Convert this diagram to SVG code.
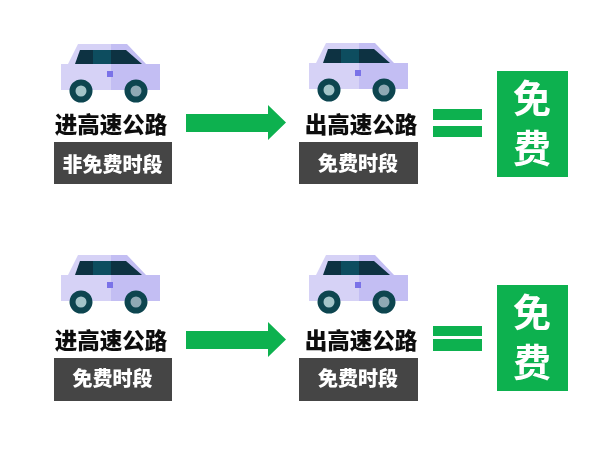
<svg xmlns="http://www.w3.org/2000/svg" width="600" height="450" viewBox="0 0 600 450">
<style>
.lbl{font-family:"Noto Sans CJK SC","Liberation Sans",sans-serif;font-weight:900;font-size:22.500px;fill:#111;text-anchor:middle}
.tag{fill:#444}
.tagt{font-family:"Noto Sans CJK SC","Liberation Sans",sans-serif;font-weight:900;font-size:20px;fill:#fff;text-anchor:middle}
.free{font-family:"Noto Sans CJK SC","Liberation Sans",sans-serif;font-weight:700;font-size:38px;fill:#fff;text-anchor:middle}
.g{fill:#0fb14f}
</style>
<defs>
<filter id="soft" x="-5%" y="-5%" width="110%" height="110%"><feGaussianBlur stdDeviation="0.65"/></filter>
<g id="car">
<path d="M61 64H111V90H61Z" fill="#d6d2f6"/>
<path d="M111 64H160V90H111Z" fill="#c3bef3"/>
<path d="M68 64L78 44H111V64Z" fill="#d6d2f6"/>
<path d="M111 44H127L146 64H111Z" fill="#c3bef3"/>
<path d="M75 64L80 50H93V64Z" fill="#0b3242"/>
<path d="M93 50H111V64H93Z" fill="#0d4d5e"/>
<path d="M111 50H126L142 64H111Z" fill="#0b3242"/>
<rect x="107" y="71" width="6" height="6" fill="#7a72e8"/>
<circle cx="81" cy="91" r="8.500" fill="#a3c4c8" stroke="#0c4550" stroke-width="6"/>
<circle cx="136" cy="91" r="8.500" fill="#8fa9b4" stroke="#0c4550" stroke-width="6"/>
</g>
<g id="arrow"><path class="g" d="M186 114H268V105L286 122.500L268 140V132H186Z"/></g>
</defs>
<g filter="url(#soft)">
<g id="connectors">
<use href="#arrow"/>
<use href="#arrow" y="217"/>
<rect class="g" x="433" y="109" width="49" height="11"/>
<rect class="g" x="433" y="126" width="49" height="11"/>
<rect class="g" x="433" y="326" width="49" height="10"/>
<rect class="g" x="433" y="339" width="49" height="12"/>
</g>
<g id="node-entry-1">
<use href="#car"/>
<text class="lbl" x="111" y="133">进高速公路</text>
<rect class="tag" x="54" y="142" width="118" height="42"/>
<text class="tagt" x="112.500" y="172">非免费时段</text>
</g>
<g id="node-exit-1">
<use href="#car" x="248" y="-1"/>
<text class="lbl" x="361" y="133">出高速公路</text>
<rect class="tag" x="299" y="142" width="119" height="42"/>
<text class="tagt" x="358" y="171">免费时段</text>
</g>
<g id="node-free-1">
<rect class="g" x="497" y="71" width="71" height="106"/>
<text class="free"><tspan x="532" y="112">免</tspan><tspan x="532" y="162">费</tspan></text>
</g>
<g id="node-entry-2">
<use href="#car" y="211"/>
<text class="lbl" x="111" y="349">进高速公路</text>
<rect class="tag" x="54" y="358" width="118" height="43"/>
<text class="tagt" x="112.500" y="386">免费时段</text>
</g>
<g id="node-exit-2">
<use href="#car" x="248" y="211"/>
<text class="lbl" x="361" y="349">出高速公路</text>
<rect class="tag" x="299" y="358" width="119" height="43"/>
<text class="tagt" x="358" y="386">免费时段</text>
</g>
<g id="node-free-2">
<rect class="g" x="497" y="285" width="71" height="106"/>
<text class="free"><tspan x="532" y="326">免</tspan><tspan x="532" y="376">费</tspan></text>
</g>
</g>
</svg>
